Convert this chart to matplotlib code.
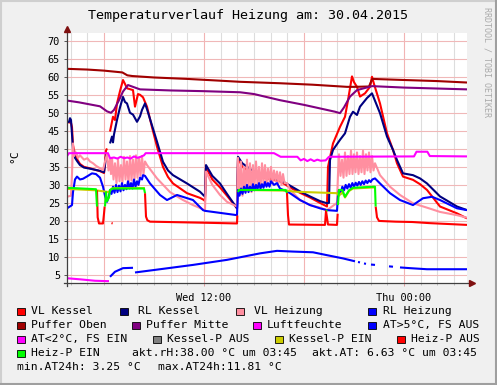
import numpy as np
import matplotlib
matplotlib.use("Agg")
import matplotlib.pyplot as plt
from matplotlib.patches import Rectangle
from matplotlib.lines import Line2D

nan = np.nan

# ---------------- data (time in hours since Wed 00:00, value in °C) ----------------
x_start, x_end = 3.78, 27.78
x_label_pos = [12, 24]
x_labels = ["Wed 12:00", "Thu 00:00"]
y_ticks = list(range(5, 75, 5))

vl_kessel = [(3.78,47.5),(4.02,47.2),(4.08,46.0),(4.14,41.0),(4.26,38.5),(4.40,37.0),(4.56,35.8),(4.80,35.0),
    (5.16,34.6),(5.46,34.2),(5.76,33.8),(6.00,33.3),(6.06,36.0),(6.12,39.5),(6.18,40.1),(6.24,nan),(6.36,44.8),
    (6.54,48.9),(6.66,48.0),(6.78,52.6),(6.96,56.0),(7.14,59.1),(7.26,58.0),(7.38,56.8),(7.74,56.3),(7.86,51.7),
    (8.04,55.2),(8.16,55.0),(8.34,54.3),(8.58,51.7),(8.88,46.0),(9.18,40.6),(9.54,35.0),(9.84,32.2),(10.14,30.4),
    (10.98,27.7),(11.76,26.4),(12.00,25.8),(12.06,25.5),(12.12,34.8),(12.50,31.5),(12.96,29.3),(13.38,27.0),
    (13.98,23.5),(14.04,37.5),(14.30,35.0),(14.76,33.5),(15.36,32.3),(16.56,31.0),(17.16,29.3),(17.76,27.8),
    (18.36,26.5),(18.96,25.0),(19.38,24.0),(19.44,35.0),(19.74,41.5),(20.16,46.1),(20.46,48.9),(20.64,53.5),
    (20.88,60.1),(21.00,58.5),(21.18,57.2),(21.36,54.5),(21.66,55.4),(21.96,57.2),(22.08,60.0),(22.20,58.0),
    (22.56,52.6),(22.98,44.3),(23.34,39.7),(23.58,36.0),(23.94,32.3),(24.54,31.4),(24.96,30.2),(25.38,28.6),
    (26.16,24.0),(27.18,22.1),(27.78,20.7)]

rl_kessel = [(3.78,47.3),(3.90,47.5),(3.96,48.5),(4.02,48.0),(4.08,44.0),(4.14,40.0),(4.26,37.5),(4.40,36.5),
    (4.56,35.5),(4.80,34.8),(5.16,34.5),(5.46,34.2),(5.76,33.9),(6.00,33.5),(6.06,35.5),(6.12,38.0),(6.18,38.5),
    (6.24,nan),(6.36,41.5),(6.48,43.4),(6.54,41.8),(6.60,44.0),(6.78,48.0),(6.96,51.5),(7.14,54.4),(7.26,53.0),
    (7.38,52.6),(7.56,50.0),(7.74,49.5),(7.98,47.5),(8.16,49.0),(8.28,50.8),(8.46,52.6),(8.58,51.0),(8.88,46.5),
    (9.18,42.0),(9.54,36.4),(9.84,34.0),(10.14,32.7),(10.98,30.4),(11.76,28.1),(12.00,27.0),(12.06,26.8),
    (12.12,35.5),(12.50,32.5),(12.96,30.4),(13.38,27.5),(13.98,23.5),(14.04,37.8),(14.30,36.0),(14.76,34.4),
    (15.36,33.0),(16.56,31.4),(17.16,29.8),(17.76,28.2),(18.36,26.8),(18.96,25.5),(19.38,24.9),(19.50,25.0),
    (19.56,36.9),(19.74,39.7),(20.16,42.5),(20.46,44.3),(20.76,48.9),(20.94,50.3),(21.18,49.4),(21.36,51.7),
    (21.78,54.1),(22.08,55.4),(22.56,49.9),(22.98,43.4),(23.34,39.7),(23.58,36.9),(23.94,33.2),(24.54,32.7),
    (24.96,31.8),(25.38,30.4),(26.16,26.8),(27.18,24.0),(27.78,23.0)]

vl_heizung = [(3.78,26.7),(4.02,27.0),(4.08,33.0),(4.14,41.5),(4.20,38.0),(4.32,39.0),(4.44,37.5),(4.56,38.2),
    (4.80,37.0),(5.00,37.4),(5.16,36.5),(5.34,36.0),(5.52,35.3),(5.76,34.6),(5.94,34.1),(6.06,36.5),(6.18,38.5),
    (6.27,34.0),(6.36,37.0),(6.42,33.0),(6.48,37.5),(6.57,31.5),(6.66,36.0),(6.75,30.5),(6.84,37.0),(6.93,31.0),
    (7.02,35.5),(7.11,30.8),(7.20,37.8),(7.29,31.5),(7.38,36.5),(7.47,30.5),(7.56,38.0),(7.65,31.2),(7.74,37.0),
    (7.83,31.5),(7.92,38.2),(8.01,32.0),(8.10,37.5),(8.19,32.5),(8.28,38.0),(8.37,33.0),(8.46,36.5),(8.58,35.5),
    (9.18,31.8),(9.96,28.0),(10.74,25.8),(11.34,24.4),(12.06,23.0),(12.12,33.7),(12.50,30.0),(12.96,27.2),
    (13.38,25.3),(13.98,24.0),(14.04,37.5),(14.13,28.0),(14.22,36.5),(14.31,27.0),(14.40,35.0),(14.49,28.5),
    (14.58,37.0),(14.67,29.0),(14.76,36.0),(14.85,28.0),(14.94,35.5),(15.03,29.5),(15.12,36.5),(15.21,30.0),
    (15.30,35.0),(15.39,29.0),(15.48,36.0),(15.57,30.5),(15.66,35.5),(15.75,30.0),(15.84,34.5),(15.93,31.0),
    (16.02,35.0),(16.11,30.5),(16.20,34.0),(16.29,31.0),(16.38,33.7),(16.47,30.5),(16.56,33.5),(16.65,30.0),
    (16.74,33.0),(16.83,30.5),(16.98,30.5),(17.16,28.7),(17.76,25.8),(18.36,24.4),(18.96,23.7),(19.38,23.0),
    (19.98,25.0),(20.04,33.0),(20.10,38.5),(20.19,32.5),(20.28,37.0),(20.37,32.0),(20.46,39.0),(20.55,32.5),
    (20.64,38.0),(20.73,33.0),(20.82,39.5),(20.91,33.0),(21.00,38.5),(21.09,33.5),(21.18,39.0),(21.27,33.0),
    (21.36,38.0),(21.45,33.5),(21.54,39.5),(21.63,33.0),(21.72,38.5),(21.81,34.0),(21.90,39.0),(21.99,33.5),
    (22.08,38.0),(22.17,34.0),(22.26,36.0),(22.56,32.7),(23.16,29.5),(23.76,27.2),(24.54,24.9),(25.50,23.5),
    (26.16,22.5),(27.18,21.6),(27.78,20.9)]

rl_heizung = [(3.78,23.5),(4.02,24.2),(4.08,24.4),(4.14,28.0),(4.26,31.5),(4.38,32.3),(4.56,31.5),(4.74,31.7),
    (5.00,32.4),(5.28,33.2),(5.52,33.0),(5.76,32.0),(5.94,29.5),(6.06,27.0),(6.18,25.3),(6.30,27.0),(6.36,28.6),
    (6.45,27.5),(6.54,29.5),(6.63,27.8),(6.72,30.0),(6.81,28.0),(6.90,29.8),(6.99,28.2),(7.08,30.5),(7.17,28.5),
    (7.26,30.0),(7.35,28.8),(7.44,31.0),(7.53,29.0),(7.62,30.5),(7.71,29.0),(7.80,31.5),(7.89,29.5),(7.98,31.0),
    (8.07,30.0),(8.16,32.0),(8.28,31.5),(8.34,32.7),(8.46,32.5),(8.76,30.4),(9.36,27.2),(9.78,25.8),(10.38,27.2),
    (11.34,25.8),(11.94,23.0),(12.06,22.8),(13.98,21.6),(14.04,28.6),(14.13,27.0),(14.22,29.0),(14.31,27.5),
    (14.40,29.5),(14.49,27.8),(14.58,30.0),(14.67,28.0),(14.76,29.5),(14.85,28.3),(14.94,30.2),(15.03,28.5),
    (15.12,30.0),(15.21,28.8),(15.30,30.5),(15.39,29.0),(15.48,30.2),(15.57,29.2),(15.66,30.8),(15.75,29.5),
    (15.84,30.5),(15.93,29.5),(16.02,31.0),(16.20,30.0),(16.38,30.5),(16.56,29.0),(16.80,28.5),(16.98,28.2),
    (17.16,27.7),(17.76,25.8),(18.36,24.4),(18.96,23.5),(19.38,23.0),(19.98,22.8),(20.04,27.0),(20.10,28.6),
    (20.20,27.5),(20.30,29.5),(20.40,28.5),(20.50,30.0),(20.60,29.0),(20.70,30.2),(20.80,29.2),(20.90,30.5),
    (21.00,29.5),(21.10,30.6),(21.20,29.8),(21.30,30.8),(21.40,30.0),(21.50,31.0),(21.60,30.2),(21.70,31.2),
    (21.80,30.5),(21.90,31.3),(22.00,30.8),(22.10,31.5),(22.26,31.8),(22.56,30.4),(23.16,27.7),(23.76,25.8),
    (24.54,24.4),(25.14,26.3),(25.68,26.7),(26.16,25.8),(27.18,23.5),(27.78,23.0)]

puffer_oben = [(3.78,62.2),(5.00,62.0),(6.00,61.7),(7.10,61.2),(7.40,60.4),(7.70,60.2),(9.00,59.8),(11.00,59.4),
    (13.00,58.9),(14.16,58.6),(16.56,58.2),(18.50,57.8),(20.58,57.2),(21.00,57.2),(21.90,57.3),(22.10,59.4),
    (24.00,59.1),(26.00,58.8),(27.78,58.4)]

puffer_mitte = [(3.78,53.4),(4.50,52.9),(5.76,51.8),(6.18,50.4),(6.42,50.0),(6.60,50.8),(6.90,53.5),(7.14,55.9),
    (7.44,57.7),(8.16,56.5),(10.00,56.2),(12.00,56.0),(14.16,55.7),(15.00,55.2),(16.56,53.5),(18.00,52.2),
    (19.86,50.3),(20.16,49.9),(20.40,51.5),(20.76,54.5),(21.18,56.3),(22.08,57.4),(24.00,57.0),(27.78,56.5)]

luftfeuchte = [(3.78,38.0),(3.90,38.8),(6.24,38.8),(6.36,37.4),(6.60,37.6),(6.80,37.3),(7.00,37.8),(7.20,37.4),
    (7.40,37.6),(7.60,37.3),(7.80,37.9),(8.00,37.5),(8.20,37.8),(8.40,38.2),(8.50,38.8),(16.20,38.8),(16.60,37.8),
    (17.60,37.8),(17.80,36.8),(18.00,37.2),(18.20,36.6),(18.40,37.1),(18.60,36.6),(18.80,37.0),(19.00,36.7),
    (19.30,36.8),(19.50,37.8),(24.60,37.9),(24.75,39.2),(25.40,39.2),(25.55,38.0),(27.78,37.9)]

at_warm = [(6.36,4.5),(6.66,5.9),(7.14,6.9),(7.74,7.0),(7.80,nan),(7.86,5.7),(9.36,6.6),(11.34,7.8),(13.38,9.2),
    (15.36,11.0),(16.38,11.7),(17.34,11.5),(18.54,11.3),(19.38,10.5),(20.34,9.6),(21.06,8.8),(21.12,nan),
    (21.24,8.6),(21.36,8.5),(21.42,nan),(21.60,8.2),(21.72,8.1),(21.78,nan),(22.02,7.9),(22.26,7.8),(22.32,nan),
    (22.56,7.6),(22.62,nan),(23.10,7.4),(23.34,7.3),(23.40,nan),(23.76,7.1),(24.36,6.9),(25.38,6.6),(27.78,6.6)]

at_kalt = [(3.78,4.1),(4.56,3.8),(5.46,3.4),(6.18,3.3),(6.30,3.3)]

kessel_p_ein = [(3.78,28.9),(5.50,28.5),(6.30,28.0),(6.42,28.8),(6.54,29.1),(8.46,29.1),(8.47,nan),
    (14.04,28.6),(16.98,28.4),(17.50,28.1),(19.98,27.7),(20.10,27.0),(20.30,28.0),(20.46,26.5),(20.70,28.3),
    (20.94,29.0),(22.26,29.3)]

heiz_p_ein = [(3.78,29.2),(5.52,28.8),(5.58,24.0),(5.60,nan),(6.06,24.0),(6.12,28.0),(6.18,25.5),(6.30,26.5),
    (6.36,28.6),(6.54,29.0),(8.40,29.0),(8.46,27.7),(8.47,nan),(14.04,28.0),(14.10,28.6),(16.90,28.6),(16.98,27.8),
    (17.00,nan),(19.34,22.8),(19.40,23.0),(19.42,nan),(20.04,24.4),(20.10,28.6),(20.30,28.6),(20.46,26.7),
    (20.70,28.5),(20.94,29.2),(22.20,29.5),(22.26,29.5),(22.30,24.0)]

heiz_p_aus = [(5.58,28.5),(5.62,21.0),(5.70,19.3),(5.94,19.3),(6.00,22.0),(6.04,24.0),(6.05,nan),(6.45,19.4),
    (6.52,19.3),(6.53,nan),(8.46,27.7),(8.52,21.2),(8.60,20.2),(8.76,19.8),(12.00,19.5),(13.98,19.3),(14.00,21.5),
    (14.01,nan),(16.98,27.8),(17.04,21.6),(17.10,19.0),(19.26,18.9),(19.32,22.8),(19.44,19.0),(19.98,18.9),
    (20.02,22.0),(20.03,nan),(22.30,24.0),(22.38,21.0),(22.50,20.0),(23.50,19.8),(24.50,19.7),(25.50,19.4),
    (27.78,18.9)]

# ---------------- figure ----------------
W, H = 497, 385
fig = plt.figure(figsize=(W / 100, H / 100), dpi=100)
fig.patch.set_facecolor("#F0F0F0")
MONO = "DejaVu Sans Mono"

def fx(px):
    return px / W

def fy(py):
    return 1 - py / H

x0, x1, ytop, ybot = 67, 467, 33, 283
ax = fig.add_axes([fx(x0), fy(ybot), (x1 - x0) / W, (ybot - ytop) / H])
ax.set_facecolor("white")
ax.set_xlim(x_start, x_end)
ax.set_ylim(2.78, 72.14)
for s in ax.spines.values():
    s.set_visible(False)

# grid
for h in range(4, 28):
    if h % 6 == 0:
        ax.axvline(h, color="#F2B4B4", lw=0.8, zorder=1)
    else:
        ax.axvline(h, color="#DDDDDD", lw=0.8, zorder=0.5)
for yv in y_ticks:
    ax.axhline(yv, color="#F0B8B8", lw=0.8, zorder=1)

ax.set_yticks(y_ticks)
ax.set_yticklabels([str(v) for v in y_ticks], family=MONO, fontsize=7.4)
ax.set_xticks(x_label_pos)
ax.set_xticklabels(x_labels, family=MONO, fontsize=7.4)
ax.set_xticks(range(4, 28), minor=True)
ax.tick_params(axis="y", length=2.4, width=0.7, color="#555555", pad=2.6)
ax.tick_params(axis="x", which="major", length=2.4, width=0.7, color="#E0A0A0", pad=5)
ax.tick_params(axis="x", which="minor", length=1.6, width=0.7, color="#BBBBBB")

def draw(series, color, z):
    arr = np.array(series, dtype=float)
    ax.plot(arr[:, 0], arr[:, 1], color=color, lw=1.5, zorder=z, solid_capstyle="butt")

draw(vl_kessel, "#FF0000", 3)
draw(rl_kessel, "#000080", 4)
draw(vl_heizung, "#FF8FA0", 5)
draw(rl_heizung, "#0000FF", 6)
draw(puffer_oben, "#A00000", 7)
draw(puffer_mitte, "#800080", 8)
draw(luftfeuchte, "#FF00FF", 9)
draw(at_warm, "#0000FF", 10)
draw(at_kalt, "#FF00FF", 11)
draw(kessel_p_ein, "#CCCC00", 12)
draw(heiz_p_aus, "#FF0000", 13)
draw(heiz_p_ein, "#00FF00", 14)

# axes lines with arrows
axis_col = "#404040"
fig.add_artist(Line2D([fx(67), fx(67)], [fy(286), fy(30)], color=axis_col, lw=0.9))
fig.add_artist(Line2D([fx(64), fx(471)], [fy(283), fy(283)], color=axis_col, lw=0.9))
fig.add_artist(Line2D([fx(67)], [fy(29)], marker="^", markersize=4.5, color="#7F1010", lw=0))
fig.add_artist(Line2D([fx(472)], [fy(283)], marker=">", markersize=4.5, color="#7F1010", lw=0))

# title, unit, watermark
fig.text(fx(248), fy(16), "Temperaturverlauf Heizung am: 30.04.2015", ha="center", va="center",
         family=MONO, fontsize=9.6, color="#000000")
fig.text(fx(14), fy(156), "°C", rotation=90, ha="center", va="center", family=MONO, fontsize=8.2)
fig.text(fx(487), fy(7), "RRDTOOL / TOBI OETIKER", rotation=-90, ha="center", va="top",
         family=MONO, fontsize=6, color="#AAAAAA")

# legend
legend_items = [
    (311, 17, 31, "#FF0000", "VL Kessel"),
    (311, 120, 138, "#000080", "RL Kessel"),
    (311, 236, 254, "#FF8FA0", "VL Heizung"),
    (311, 368, 383, "#0000FF", "RL Heizung"),
    (325, 17, 31, "#A00000", "Puffer Oben"),
    (325, 132, 146, "#800080", "Puffer Mitte"),
    (325, 253, 267, "#FF00FF", "Luftfeuchte"),
    (325, 368, 383, "#0000FF", "AT>5°C, FS AUS"),
    (339, 17, 31, "#FF00FF", "AT<2°C, FS EIN"),
    (339, 153, 167, "#808080", "Kessel-P AUS"),
    (339, 275, 289, "#CCCC00", "Kessel-P EIN"),
    (339, 397, 411, "#FF0000", "Heiz-P AUS"),
    (353, 17, 31, "#00FF00", "Heiz-P EIN"),
]
for yrow, bx, tx, col, lab in legend_items:
    fig.add_artist(Rectangle((fx(bx), fy(yrow + 4)), 7.5 / W, 7.5 / H, facecolor=col,
                             edgecolor="#000000", lw=0.6))
    fig.text(fx(tx), fy(yrow), lab, ha="left", va="center", family=MONO, fontsize=8.2)

fig.text(fx(132), fy(353), "akt.rH:38.00 °C um 03:45", ha="left", va="center", family=MONO, fontsize=8.2)
fig.text(fx(312), fy(353), "akt.AT: 6.63 °C um 03:45", ha="left", va="center", family=MONO, fontsize=8.2)
fig.text(fx(17), fy(367), "min.AT24h: 3.25 °C", ha="left", va="center", family=MONO, fontsize=8.2)
fig.text(fx(158), fy(367), "max.AT24h:11.81 °C", ha="left", va="center", family=MONO, fontsize=8.2)

# outer frame
fig.add_artist(Line2D([0, 1], [fy(1), fy(1)], color="#CFCFCF", lw=1.5))
fig.add_artist(Line2D([fx(1), fx(1)], [0, 1], color="#CFCFCF", lw=1.5))
fig.add_artist(Line2D([0, 1], [fy(384), fy(384)], color="#9F9F9F", lw=1.5))
fig.add_artist(Line2D([fx(496), fx(496)], [0, 1], color="#9F9F9F", lw=1.5))

fig.savefig("out.png", dpi=100, facecolor=fig.get_facecolor())
